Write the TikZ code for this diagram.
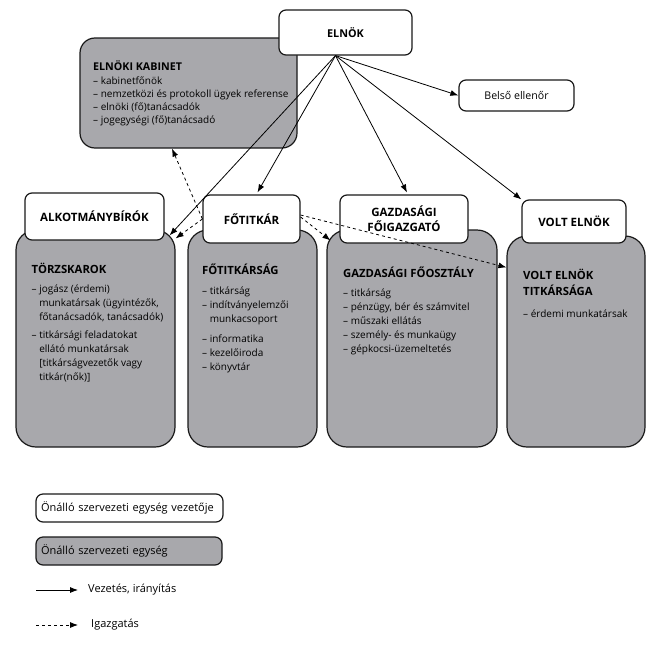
\documentclass[tikz,border=0pt]{standalone}
\usepackage{fontspec}
\setmainfont{Open Sans}
\usetikzlibrary{arrows.meta}
\definecolor{unitGray}{RGB}{168,168,172}
\newcommand{\unithead}[1]{{\fontsize{11.3}{13.8}\selectfont\bfseries #1}}
\newcommand{\hang}{\phantom{– }}

\begin{document}
\begin{tikzpicture}[x=1pt,y=-1pt,
  leader/.style={rectangle,draw=black!90,line width=1.2pt,rounded corners=7pt,fill=white,inner sep=0pt,align=center,font=\fontsize{11.5}{15}\selectfont\bfseries},
  unit/.style={rectangle,draw=black!90,line width=1.2pt,rounded corners=20pt,fill=unitGray,inner sep=0pt},
  unittext/.style={anchor=base west,inner sep=0pt,font=\fontsize{10}{13.8}\selectfont},
  legendtext/.style={font=\fontsize{11}{13}\selectfont},
  lead/.style={-{Latex[length=8pt,width=6pt]},line width=0.8pt},
  admin/.style={lead,dashed}]
\useasboundingbox (0,0) rectangle (660,645);

% Elnok and cabinet
\node[unit,rounded corners=15pt,minimum width=217pt,minimum height=110pt] (cabinet) at (188.5,93) {};
\node[unittext,font=\fontsize{10}{13}\selectfont] (cabinettext) at (93,70.7) {\begin{tabular}[t]{@{}l@{}}
{\fontsize{10.7}{13}\selectfont\bfseries ELNÖKI KABINET}\\[0.6pt]
– kabinetfőnök\\
– nemzetközi és protokoll ügyek referense\\
– elnöki (fő)tanácsadók\\
– jogegységi (fő)tanácsadó
\end{tabular}};
\node[leader,font=\fontsize{10.8}{13}\selectfont\bfseries,minimum width=133pt,minimum height=45pt] (elnok) at (345.5,32.5) {ELNÖK};
\node[leader,font=\fontsize{10.6}{13}\selectfont,minimum width=115pt,minimum height=31pt] (belso) at (516.5,95.5) {Belső ellenőr};

% Units
\node[unit,minimum width=159pt,minimum height=217pt] (torzs) at (95.5,338.5) {};
\node[unit,minimum width=129pt,minimum height=217pt] (fotitkarsag) at (252.5,338.5) {};
\node[unit,minimum width=170pt,minimum height=217pt] (gazd) at (412,338.5) {};
\node[unit,minimum width=138pt,minimum height=211pt] (volt) at (576,341.5) {};

% Leaders
\node[leader,minimum width=139pt,minimum height=47pt] (alkot) at (94.5,216.5) {ALKOTMÁNYBÍRÓK};
\node[leader,minimum width=97pt,minimum height=48pt] (fotitkar) at (251.5,219) {FŐTITKÁR};
\node[leader,minimum width=128pt,minimum height=48pt] (gazdfo) at (404,219) {GAZDASÁGI\\FŐIGAZGATÓ};
\node[leader,minimum width=104pt,minimum height=43pt] (voltelnok) at (574,221.5) {VOLT ELNÖK};

% Unit texts
\node[unittext] (torzstext) at (31.5,273) {\begin{tabular}[t]{@{}l@{}}
\unithead{TÖRZSKAROK}\\[5.9pt]
– jogász (érdemi)\\
\hang munkatársak (ügyintézők,\\
\hang főtanácsadók, tanácsadók)\\[4.5pt]
– titkársági feladatokat\\
\hang ellátó munkatársak\\
\hang [titkárságvezetők vagy\\
\hang titkár(nők)]
\end{tabular}};
\node[unittext] (fotitkarsagtext) at (202,274) {\begin{tabular}[t]{@{}l@{}}
\unithead{FŐTITKÁRSÁG}\\[7pt]
– titkárság\\
– indítványelemzői\\
\hang munkacsoport\\[6.5pt]
– informatika\\
– kezelőiroda\\
– könyvtár
\end{tabular}};
\node[unittext] (gazdtext) at (343,277) {\begin{tabular}[t]{@{}l@{}}
\unithead{GAZDASÁGI FŐOSZTÁLY}\\[6pt]
– titkárság\\
– pénzügy, bér és számvitel\\
– műszaki ellátás\\
– személy- és munkaügy\\
– gépkocsi-üzemeltetés
\end{tabular}};
\node[unittext] (volttext) at (523,279) {\begin{tabular}[t]{@{}l@{}}
\unithead{VOLT ELNÖK}\\[2.2pt]
\unithead{TITKÁRSÁGA}\\[7.9pt]
– érdemi munkatársak
\end{tabular}};

% Leadership
\coordinate (hub) at ([xshift=-10pt]elnok.south);
\draw[lead] (hub) -- ([xshift=-6pt,yshift=-6pt]torzs.north east);
\draw[lead] (hub) -- ([xshift=6pt,yshift=2pt]fotitkar.north);
\draw[lead] (hub) -- ([xshift=3pt,yshift=2pt]gazdfo.north);
\draw[lead] (hub) -- (voltelnok.north west);
\draw[lead] (hub) -- (belso.west);

% Administration
\draw[admin] (fotitkar.west) -- ([xshift=-16.5pt]cabinet.south);
\draw[admin] (fotitkar.west) -- ([yshift=-9pt]torzs.north east);
\draw[admin] ([yshift=2pt]fotitkar.east) -- ([xshift=4pt,yshift=-11pt]gazd.north west);
\draw[admin] ([yshift=4pt]fotitkar.east) -- ([yshift=-32pt]volt.north west);

% Legend
\node[leader,font=\fontsize{11}{13}\selectfont\mdseries,text width=177pt,inner xsep=5pt,minimum height=28pt,align=left] (legleader) at (129.5,508) {Önálló szervezeti egység vezetője};
\node[unit,legendtext,rounded corners=7pt,text width=176pt,inner xsep=5pt,minimum height=28pt,align=left] (legunit) at (129,551) {Önálló szervezeti egység};
\coordinate (leadstart) at (36,590);
\coordinate (leadend) at (78,590);
\node[legendtext,anchor=west,inner sep=0pt] (leadlabel) at (88,590) {Vezetés, irányítás};
\draw[lead] (leadstart) -- (leadend);
\coordinate (adminstart) at (36,625);
\coordinate (adminend) at (78,625);
\node[legendtext,anchor=west,inner sep=0pt] (adminlabel) at (91,625) {Igazgatás};
\draw[admin] (adminstart) -- (adminend);
\end{tikzpicture}
\end{document}
